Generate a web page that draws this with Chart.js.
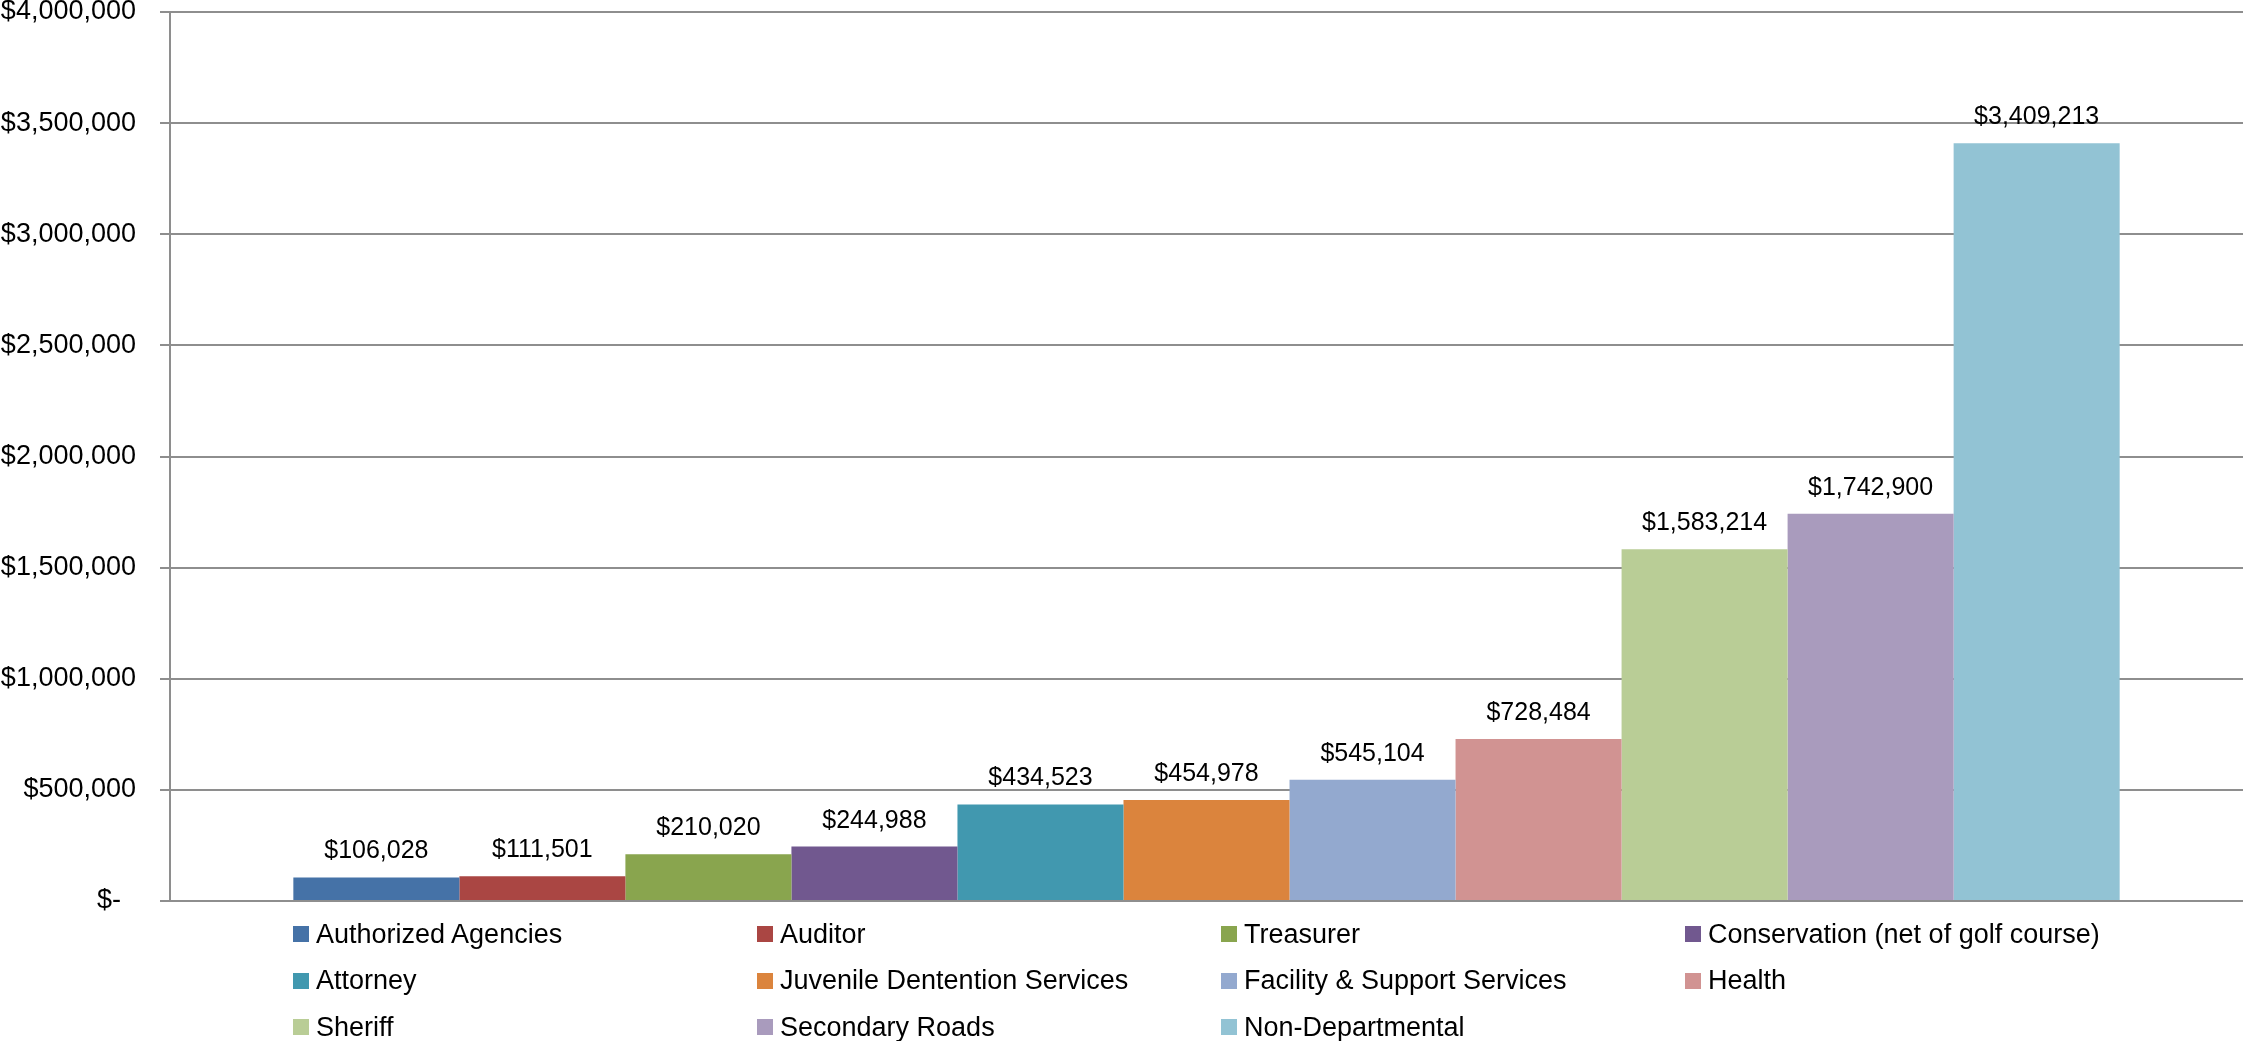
<!DOCTYPE html>
<html>
<head>
<meta charset="utf-8">
<title>Department Expenditures</title>
<script src="https://cdn.jsdelivr.net/npm/chart.js@4"></script>
<style>
    html, body { margin: 0; padding: 0; background: #ffffff; }
    #wrap { position: relative; width: 2243px; height: 1041px; overflow: hidden; }
    #legend {
        position: absolute;
        left: 293px;
        top: 922px;
        display: grid;
        grid-template-columns: repeat(4, 464px);
        grid-auto-rows: 46.5px;
        font-family: 'Liberation Sans', Arial, sans-serif;
        font-size: 27px;
        color: #000000;
    }
    .legend-item { display: flex; align-items: center; height: 24px; white-space: nowrap; }
    .legend-box { width: 16px; height: 16px; margin-right: 7px; flex: none; }
</style>
</head>
<body>
<div id="wrap">
    <canvas id="barChart" width="2243" height="1041"></canvas>
    <div id="legend"></div>
</div>
<script>
// Spending by department, one bar per department
const departments = [
    'Authorized Agencies',
    'Auditor',
    'Treasurer',
    'Conservation (net of golf course)',
    'Attorney',
    'Juvenile Dentention Services',
    'Facility & Support Services',
    'Health',
    'Sheriff',
    'Secondary Roads',
    'Non-Departmental'
];
const amounts = [106028, 111501, 210020, 244988, 434523, 454978, 545104, 728484, 1583214, 1742900, 3409213];
const barColors = [
    '#4572A7', '#AA4643', '#89A54E', '#71588F', '#4198AF', '#DB843D',
    '#93A9CF', '#D19392', '#B9CD96', '#A99BBD', '#92C3D4'
];
const yMin = 0;
const yMax = 4000000;
const yStep = 500000;

const FONT = "'Liberation Sans', Arial, sans-serif";

function formatDollars(value) {
    if (value === 0) return '$-  ';
    return '$' + Number(value).toLocaleString('en-US');
}

// Draws the dollar amount above each bar
const valueLabels = {
    id: 'valueLabels',
    afterDatasetsDraw(chart) {
        const ctx = chart.ctx;
        ctx.save();
        ctx.font = '25px ' + FONT;
        ctx.fillStyle = '#000000';
        ctx.textAlign = 'center';
        ctx.textBaseline = 'alphabetic';
        chart.data.datasets.forEach((ds, i) => {
            const meta = chart.getDatasetMeta(i);
            meta.data.forEach((bar, j) => {
                ctx.fillText(formatDollars(ds.data[j]), bar.x, bar.y - 19);
            });
        });
        ctx.restore();
    }
};

const datasets = departments.map((name, i) => ({
    label: name,
    data: [amounts[i]],
    backgroundColor: barColors[i],
    borderWidth: 0
}));

const chart = new Chart(document.getElementById('barChart'), {
    type: 'bar',
    data: { labels: [''], datasets: datasets },
    plugins: [valueLabels],
    options: {
        responsive: false,
        animation: false,
        events: [],
        layout: { padding: { top: 12, bottom: 140, left: 0, right: 0 } },
        datasets: { bar: { categoryPercentage: 0.881, barPercentage: 1.0 } },
        plugins: {
            legend: { display: false },
            tooltip: { enabled: false }
        },
        scales: {
            x: {
                grid: { display: false },
                border: { display: true, color: '#8e8e8e', width: 2 },
                ticks: { display: false },
                afterFit(scale) { scale.height = 0; }
            },
            y: {
                min: yMin,
                max: yMax,
                grid: { color: '#8e8e8e', lineWidth: 2, tickLength: 10 },
                border: { display: true, color: '#8e8e8e', width: 2 },
                ticks: {
                    stepSize: yStep,
                    padding: 24,
                    color: '#000000',
                    font: { size: 27, family: FONT },
                    callback: value => formatDollars(value)
                },
                afterFit(scale) {
                    // fixed axis width; the top label may overhang the plot
                    scale.width = 170;
                    scale.paddingTop = 0;
                    scale.paddingBottom = 0;
                }
            }
        }
    }
});

// Four-column legend under the plot
const legendEl = document.getElementById('legend');
legendEl.innerHTML = chart.data.datasets.map(ds => `
    <div class="legend-item">
        <span class="legend-box" style="background:${ds.backgroundColor}"></span>
        <span>${ds.label.replace('&', '&amp;')}</span>
    </div>
`).join('');
</script>
</body>
</html>
